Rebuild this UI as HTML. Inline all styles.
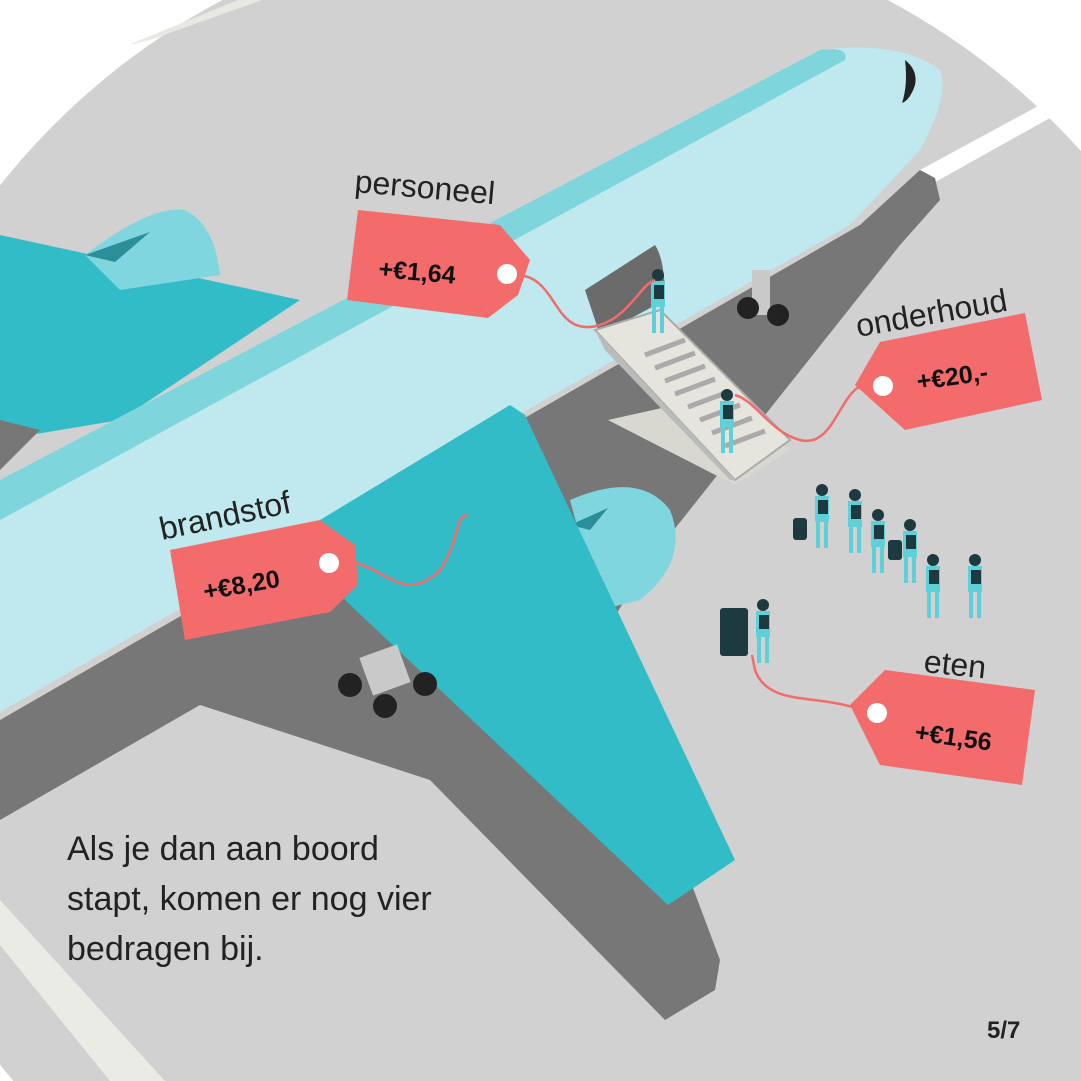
<!DOCTYPE html>
<html><head><meta charset="utf-8"><style>
html,body{margin:0;padding:0;background:#fff;overflow:hidden;width:1081px;height:1081px;}
svg{display:block;}
text{font-family:"Liberation Sans",sans-serif;}
</style></head><body>
<svg width="1081" height="1081" viewBox="0 0 1081 1081" xmlns="http://www.w3.org/2000/svg">
<defs>
<g id="p"><circle cx="0" cy="-50" r="6" fill="#1d3a40"/><rect x="-7" y="-44" width="14" height="26" fill="#5fcfd8"/><rect x="-6" y="-18" width="4" height="26" fill="#5fcfd8"/><rect x="2" y="-18" width="4" height="26" fill="#5fcfd8"/><rect x="-4" y="-40" width="10" height="14" fill="#1d3a40"/></g>
</defs>
<rect width="1081" height="1081" fill="#fff"/>
<circle cx="555" cy="625" r="708" fill="#d1d1d1"/>
<polygon points="128,45 238,0 262,0 150,40" fill="#e8e8e3"/>
<polygon points="0,900 0,945 110,1081 165,1081" fill="#ebebe6"/>
<!-- runway line -->
<polygon points="920,170 1040,105 1050,118 930,185" fill="#fff"/>
<!-- left wing behind -->
<polygon points="0,235 300,300 120,420 0,440" fill="#31bcc8"/>
<path d="M85,255 Q150,205 185,210 Q215,225 220,275 L120,290 Z" fill="#80d6de"/>
<polygon points="85,255 150,232 115,262" fill="#2a8f98"/>
<!-- shadow -->
<polygon points="0,420 40,430 0,470" fill="#777"/>
<polygon points="0,720 860,225 920,170 935,178 940,200 900,245 650,560 600,640 720,960 715,990 665,1020 430,780 200,705 0,820" fill="#777"/>
<!-- stair door dark -->
<path d="M585,290 L655,245 Q665,260 665,300 L600,335 Z" fill="#6b6b6b"/>
<!-- fuselage -->
<path d="M0,480 L820,50 Q900,40 940,70 Q950,95 920,150 L850,225 L0,712 Z" fill="#bfe9ee"/>
<path d="M0,480 L820,50 Q850,46 845,60 L0,520 Z" fill="#7fd5dc"/>
<path d="M905,60 Q918,70 915,85 Q910,100 902,103 Q908,85 905,60 Z" fill="#222"/>
<path d="M585,290 L655,245 Q665,260 665,300 L600,335 Z" fill="#6b6b6b"/>
<!-- right engine -->
<path d="M570,500 Q640,470 670,510 Q690,560 640,600 L600,610 Z" fill="#80d6de"/>
<polygon points="570,525 608,508 590,530" fill="#2a8f98"/>
<!-- main wing -->
<polygon points="320,520 510,405 525,415 735,860 668,905 345,600" fill="#31bcc8"/>
<!-- gear -->
<rect x="365" y="650" width="40" height="40" fill="#c9c9c9" transform="rotate(-20 385 670)"/>
<circle cx="350" cy="685" r="12" fill="#222"/><circle cx="385" cy="706" r="12" fill="#222"/><circle cx="425" cy="684" r="12" fill="#222"/>
<rect x="752" y="270" width="18" height="45" fill="#c9c9c9"/>
<circle cx="748" cy="308" r="11" fill="#222"/><circle cx="778" cy="315" r="11" fill="#222"/>
<!-- stairs -->
<polygon points="608,420 720,395 790,450 735,485" fill="#d9d8d0"/>
<polygon points="595,330 660,310 790,440 735,480" fill="#e6e5dd" stroke="#aaa" stroke-width="2"/>
<polygon points="595,330 605,350 730,480 735,480" fill="#bbb"/>
<g stroke="#aaa" stroke-width="5">
<line x1="645" y1="355" x2="685" y2="340"/><line x1="655" y1="368" x2="695" y2="353"/><line x1="665" y1="381" x2="705" y2="366"/><line x1="675" y1="394" x2="715" y2="379"/><line x1="688" y1="407" x2="728" y2="392"/><line x1="700" y1="420" x2="740" y2="405"/><line x1="712" y1="433" x2="752" y2="418"/><line x1="725" y1="446" x2="765" y2="431"/>
</g>
<!-- people -->
<use href="#p" x="658" y="325"/>
<use href="#p" x="727" y="445"/>
<use href="#p" x="822" y="540"/>
<use href="#p" x="855" y="545"/>
<use href="#p" x="878" y="565"/>
<use href="#p" x="910" y="575"/>
<use href="#p" x="933" y="610"/>
<use href="#p" x="975" y="610"/>
<use href="#p" x="763" y="655"/>
<rect x="793" y="518" width="14" height="22" rx="3" fill="#1d3a40"/>
<rect x="888" y="540" width="14" height="20" rx="3" fill="#1d3a40"/>
<rect x="720" y="608" width="28" height="48" rx="3" fill="#1d3a40"/>
<!-- strings -->
<g fill="none" stroke="#f36b6b" stroke-width="2.5">
<path d="M510,275 C560,270 550,340 600,325 C630,315 640,285 655,280"/>
<path d="M880,385 C840,370 840,450 800,440 C770,432 755,400 735,395"/>
<path d="M330,560 C380,555 400,610 440,570 C460,540 455,515 468,515"/>
<path d="M875,715 C820,690 770,710 755,670 L752,655"/>
</g>
<!-- tags -->
<g fill="#f36b6b">
<polygon points="358,210 500,225 530,260 518,295 488,318 347,300"/>
<polygon points="855,385 880,342 1025,313 1042,400 905,430"/>
<polygon points="170,550 320,520 355,545 358,585 330,612 185,640"/>
<polygon points="850,705 885,670 1035,690 1022,785 880,765"/>
</g>
<g fill="#fff"><circle cx="507" cy="274" r="10"/><circle cx="883" cy="386" r="10"/><circle cx="329" cy="563" r="10"/><circle cx="877" cy="713" r="10"/></g>
<g font-weight="bold" font-size="25" fill="#111">
<text x="378" y="277" transform="rotate(5 378 277)">+€1,64</text>
<text x="918" y="390" transform="rotate(-8 918 390)">+€20,-</text>
<text x="205" y="600" transform="rotate(-10 205 600)">+€8,20</text>
<text x="914" y="740" transform="rotate(8 914 740)">+€1,56</text>
</g>
<g font-size="32" fill="#222">
<text x="354" y="192" transform="rotate(5 354 192)">personeel</text>
<text x="858" y="337" transform="rotate(-10 858 337)">onderhoud</text>
<text x="162" y="540" transform="rotate(-12 162 540)">brandstof</text>
<text x="923" y="672" transform="rotate(6 923 672)">eten</text>
</g>
<g font-size="34" fill="#222">
<text x="67" y="860">Als je dan aan boord</text>
<text x="67" y="910">stapt, komen er nog vier</text>
<text x="67" y="960">bedragen bij.</text>
</g>
<text x="987" y="1038" font-size="24" font-weight="bold" fill="#222">5/7</text>
</svg>
</body></html>
